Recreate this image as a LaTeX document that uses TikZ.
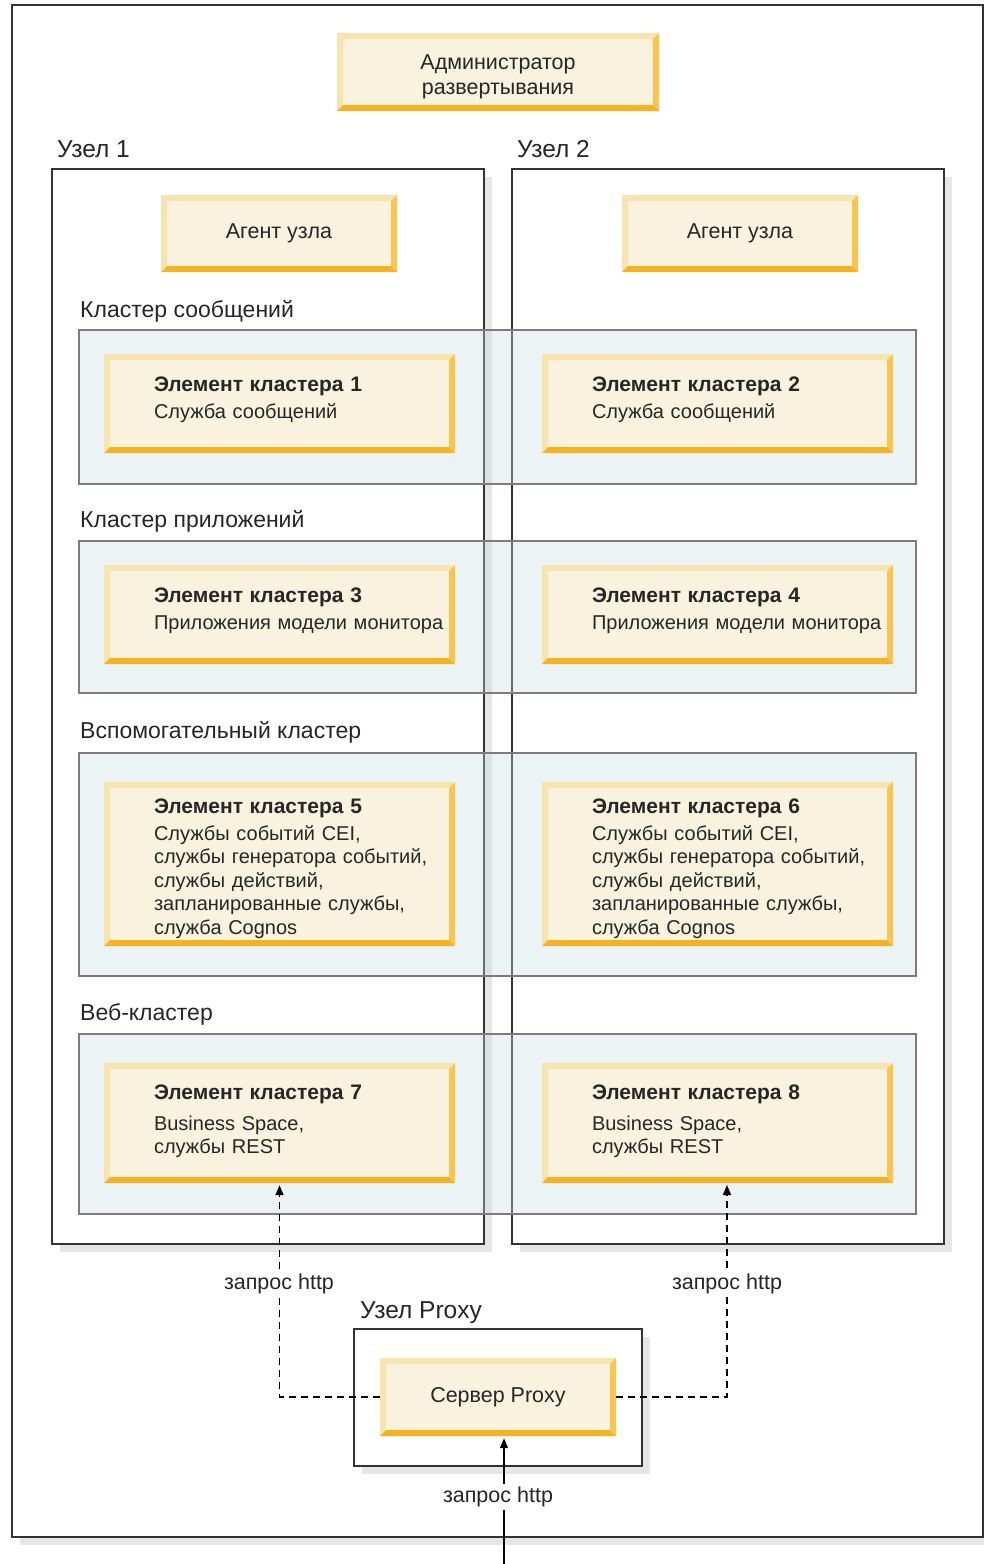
\documentclass[tikz,border=0pt]{standalone}
\usepackage{fontspec}
\setmainfont{Liberation Sans}
\usetikzlibrary{arrows.meta,fit,shadows}
\definecolor{boxFill}{HTML}{F8F2DF}
\definecolor{bevLight}{HTML}{F8E4AE}
\definecolor{bevRight}{HTML}{F8C650}
\definecolor{bevBottom}{HTML}{F5B324}
\definecolor{clFill}{HTML}{C6DDE2}
\definecolor{clLine}{HTML}{7F7B78}
\definecolor{shGray}{HTML}{E6E6E6}
\definecolor{frLine}{HTML}{333333}
\newcommand{\memtitle}[1]{{\fontsize{21}{23.5}\selectfont\textbf{#1}}}
\tikzset{
    txt/.style={font=\fontsize{21.5}{25}\selectfont, text=black!85},
    bevel/.style={fill=boxFill, path picture={
        \coordinate (bnw) at (path picture bounding box.north west);
        \coordinate (bse) at (path picture bounding box.south east);
        \coordinate (bne) at (bnw -| bse);
        \coordinate (bsw) at (bse -| bnw);
        \fill[bevLight] (bnw) -- (bne) -- ([shift={(-6pt,-6pt)}]bne) -- ([shift={(6pt,-6pt)}]bnw) -- cycle;
        \fill[bevLight] (bnw) -- ([shift={(6pt,-6pt)}]bnw) -- ([shift={(6pt,6pt)}]bsw) -- (bsw) -- cycle;
        \fill[bevRight] (bne) -- ([shift={(-6pt,-6pt)}]bne) -- ([shift={(-6pt,6pt)}]bse) -- (bse) -- cycle;
        \fill[bevBottom] (bsw) -- ([shift={(6pt,6pt)}]bsw) -- ([shift={(-6pt,6pt)}]bse) -- (bse) -- cycle;
    }},
    textshift/.style={execute at end node={\par\vspace*{#1}}},
    plainbox/.style={bevel, txt, align=center, minimum width=236pt, minimum height=77pt},
    elembox/.style={bevel, font=\fontsize{20}{23.5}\selectfont, text=black!85, align=left,
        text width=347pt, inner xsep=2pt, minimum height=99pt,
        execute at begin node={\leftskip=48pt\relax}},
    nodebox/.style={draw=frLine, line width=1.5pt, fill=white, inner sep=0pt,
        drop shadow={shadow xshift=8pt, shadow yshift=-8pt, opacity=1, fill=shGray}},
    cluster/.style={draw=clLine, line width=2pt, fill=clFill, fill opacity=0.35, inner sep=0pt},
    title/.style={anchor=west, inner sep=0pt, font=\fontsize{24.5}{28}\selectfont, text=black!85},
    cltitle/.style={anchor=west, inner sep=0pt, font=\fontsize{23}{26}\selectfont, text=black!85},
    reqlabel/.style={txt, fill=white, inner sep=3pt},
    reqdash/.style={line width=1.5pt, dash pattern=on 7pt off 5pt, -{Triangle[length=10pt,width=8pt]}},
    reqline/.style={line width=1.5pt, -{Triangle[length=10pt,width=8pt]}}
}
\begin{document}
\begin{tikzpicture}[x=1pt,y=-1pt]
\useasboundingbox (0,0) rectangle (984,1564);
% outer frame
\node[nodebox, line width=2pt, fit={(12,5) (983,1537)}] (frame) {};
% deployment manager
\node[plainbox, text width=300pt, minimum width=322pt, minimum height=78pt, textshift=-10pt] (admin) at (498,72) {Администратор\\развертывания};
% nodes
\node[title] (t1) at (57,149) {Узел 1};
\node[title] (t2) at (517,149) {Узел 2};
\node[nodebox, fit={(52,169) (484,1244)}] (node1) {};
\node[nodebox, fit={(512,169) (944,1244)}] (node2) {};
\node[plainbox] (agent1) at (279,233.5) {Агент узла};
\node[plainbox] (agent2) at (740,233.5) {Агент узла};
% clusters
\node[cltitle] (c1) at (80,311) {Кластер сообщений};
\node[cluster, fit={(79,330) (916,484)}] (msgcl) {};
\node[cltitle] (c2) at (80,521) {Кластер приложений};
\node[cluster, fit={(79,541) (916,693)}] (appcl) {};
\node[cltitle] (c3) at (80,732) {Вспомогательный кластер};
\node[cluster, fit={(79,753) (916,976)}] (supcl) {};
\node[cltitle] (c4) at (80,1014) {Веб-кластер};
\node[cluster, fit={(79,1034) (916,1214)}] (webcl) {};
% cluster members
\node[elembox, textshift=8pt] (elem1) at (279.5,403.5) {\memtitle{Элемент кластера 1}\\[3.5pt]Служба сообщений};
\node[elembox, textshift=8pt] (elem2) at (717.5,403.5) {\memtitle{Элемент кластера 2}\\[3.5pt]Служба сообщений};
\node[elembox, textshift=8pt] (elem3) at (279.5,614.5) {\memtitle{Элемент кластера 3}\\[3.5pt]Приложения модели монитора};
\node[elembox, textshift=8pt] (elem4) at (717.5,614.5) {\memtitle{Элемент кластера 4}\\[3.5pt]Приложения модели монитора};
\node[elembox, minimum height=164pt, textshift=-9pt] (elem5) at (279.5,864) {\memtitle{Элемент кластера 5}\\[3.5pt]Службы событий CEI,\\службы генератора событий,\\службы действий,\\запланированные службы,\\служба Cognos};
\node[elembox, minimum height=164pt, textshift=-9pt] (elem6) at (717.5,864) {\memtitle{Элемент кластера 6}\\[3.5pt]Службы событий CEI,\\службы генератора событий,\\службы действий,\\запланированные службы,\\служба Cognos};
\node[elembox, minimum height=120pt, textshift=3pt] (elem7) at (279.5,1123) {\memtitle{Элемент кластера 7}\\[7pt]Business Space,\\службы REST};
\node[elembox, minimum height=120pt, textshift=3pt] (elem8) at (717.5,1123) {\memtitle{Элемент кластера 8}\\[7pt]Business Space,\\службы REST};
% proxy
\node[title] (t3) at (360,1313) {Узел Proxy};
\node[nodebox, fit={(354,1329) (642,1466)}] (proxynode) {};
\node[plainbox, minimum height=78pt] (srvproxy) at (498,1397) {Сервер Proxy};
% requests
\coordinate (tip8) at (727,1185);
\coordinate (entry) at (504,1564);
\draw[reqdash] (srvproxy.west) -| ([yshift=-2pt]elem7.south);
\draw[reqdash] (srvproxy.east) -| (tip8);
\draw[reqline] (entry) -- ([xshift=6pt,yshift=-2pt]srvproxy.south);
\node[reqlabel] (req7) at (279,1284) {запрос http};
\node[reqlabel] (req8) at (727,1284) {запрос http};
\node[reqlabel] (reqin) at (498,1497) {запрос http};
\end{tikzpicture}
\end{document}
